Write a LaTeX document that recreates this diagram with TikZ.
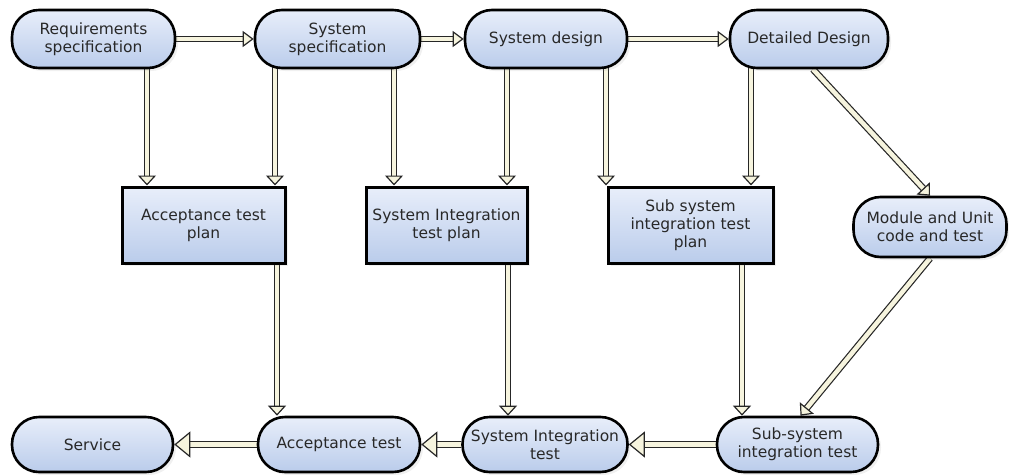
\documentclass[tikz,border=0pt]{standalone}
\usepackage{fontspec}
\setmainfont{DejaVu Sans}
\usetikzlibrary{arrows.meta,shadows}
\definecolor{cream}{RGB}{246,244,222}
\definecolor{boxtop}{RGB}{232,238,250}
\definecolor{boxbot}{RGB}{186,204,235}
\definecolor{ink}{RGB}{40,40,40}
\pgfdeclarelayer{background}
\pgfsetlayers{background,main}

\tikzset{
  base/.style={draw=black, line width=2.6pt, top color=boxtop, bottom color=boxbot,
    align=center, text=ink, font=\fontsize{15.5}{18}\selectfont, inner sep=0pt,
    drop shadow={opacity=0.12, shadow xshift=3pt, shadow yshift=-3pt}},
  stadium/.style={base, rectangle, rounded corners=27pt},
  planbox/.style={base, rectangle, line width=3pt},
  arr/.style={draw=black!85, line width=1.2pt, double=cream, double distance=4.5pt},
  tiph/.style={arr, -{Triangle[open, fill=cream, length=11pt, width=16pt, line width=1.2pt]}},
  tipv/.style={arr, -{Triangle[open, fill=cream, length=10pt, width=18pt, line width=1.2pt]}},
  tipb/.style={arr, -{Triangle[open, fill=cream, length=16pt, width=26pt, line width=1.2pt]}},
}

\begin{document}
\begin{tikzpicture}[x=1pt, y=-1pt]
\useasboundingbox (0,0) rectangle (1009,474);

% top row: specification and design
\node[stadium, minimum width=163pt, minimum height=58pt] (req)  at (93.5,39)  {Requirements\\specification};
\node[stadium, minimum width=165pt, minimum height=58pt] (sspec) at (337.5,39) {System\\specification};
\node[stadium, minimum width=162pt, minimum height=58pt] (sdes) at (546,39)   {System design};
\node[stadium, minimum width=158pt, minimum height=58pt] (ddes) at (809,39)   {Detailed Design};

% middle row: test plans and coding
\node[planbox, minimum width=163pt, minimum height=76pt] (atp)  at (203.5,225) {Acceptance test\\plan};
\node[planbox, minimum width=161pt, minimum height=76pt] (sitp) at (446.5,225) {System Integration\\test plan};
\node[planbox, minimum width=165pt, minimum height=76pt] (sstp) at (690.5,225) {Sub system\\integration test\\plan};
\node[stadium, minimum width=153pt, minimum height=60pt] (mod)  at (930,227)   {Module and Unit\\code and test};

% bottom row: testing and service
\node[stadium, minimum width=161pt, minimum height=55pt] (svc) at (92.5,444.5)  {Service};
\node[stadium, minimum width=162pt, minimum height=55pt] (at)  at (339,444.5)   {Acceptance test};
\node[stadium, minimum width=165pt, minimum height=55pt] (sit) at (545,444.5)   {System Integration\\test};
\node[stadium, minimum width=161pt, minimum height=55pt] (sst) at (797.5,444.5) {Sub-system\\integration test};

% columns of the vertical connectors
\coordinate (c1) at (147,0);
\coordinate (c2) at (275,0);
\coordinate (c3) at (394,0);
\coordinate (c4) at (507,0);
\coordinate (c5) at (606,0);
\coordinate (c6) at (751,0);
\coordinate (d1) at (277,0);
\coordinate (d2) at (508,0);
\coordinate (d3) at (742,0);

\begin{pgfonlayer}{background}
  % design flow
  \draw[tiph] (req.east) -- (sspec.west);
  \draw[tiph] (sspec.east) -- (sdes.west);
  \draw[tiph] (sdes.east) -- (ddes.west);
  % plans derived from the specifications
  \draw[tipv] (req.center -| c1) -- (atp.north -| c1);
  \draw[tipv] (sspec.center -| c2) -- (atp.north -| c2);
  \draw[tipv] (sspec.center -| c3) -- (sitp.north -| c3);
  \draw[tipv] (sdes.center -| c4) -- (sitp.north -| c4);
  \draw[tipv] (sdes.center -| c5) -- (sstp.north -| c5);
  \draw[tipv] (ddes.center -| c6) -- (sstp.north -| c6);
  \draw[tipv] ([xshift=4pt]ddes.south) -- (mod.north);
  % plans feeding the tests
  \draw[tipv] (atp.center -| d1) -- (at.north -| d1);
  \draw[tipv] (sitp.center -| d2) -- (sit.north -| d2);
  \draw[tipv] (sstp.center -| d3) -- (sst.north -| d3);
  \draw[tipv] (mod.south) -- ([xshift=3pt]sst.north);
  % test flow
  \draw[tipb] (sst.west) -- (sit.east);
  \draw[tipb] (sit.west) -- (at.east);
  \draw[tipb] (at.west) -- (svc.east);
\end{pgfonlayer}
\end{tikzpicture}
\end{document}
